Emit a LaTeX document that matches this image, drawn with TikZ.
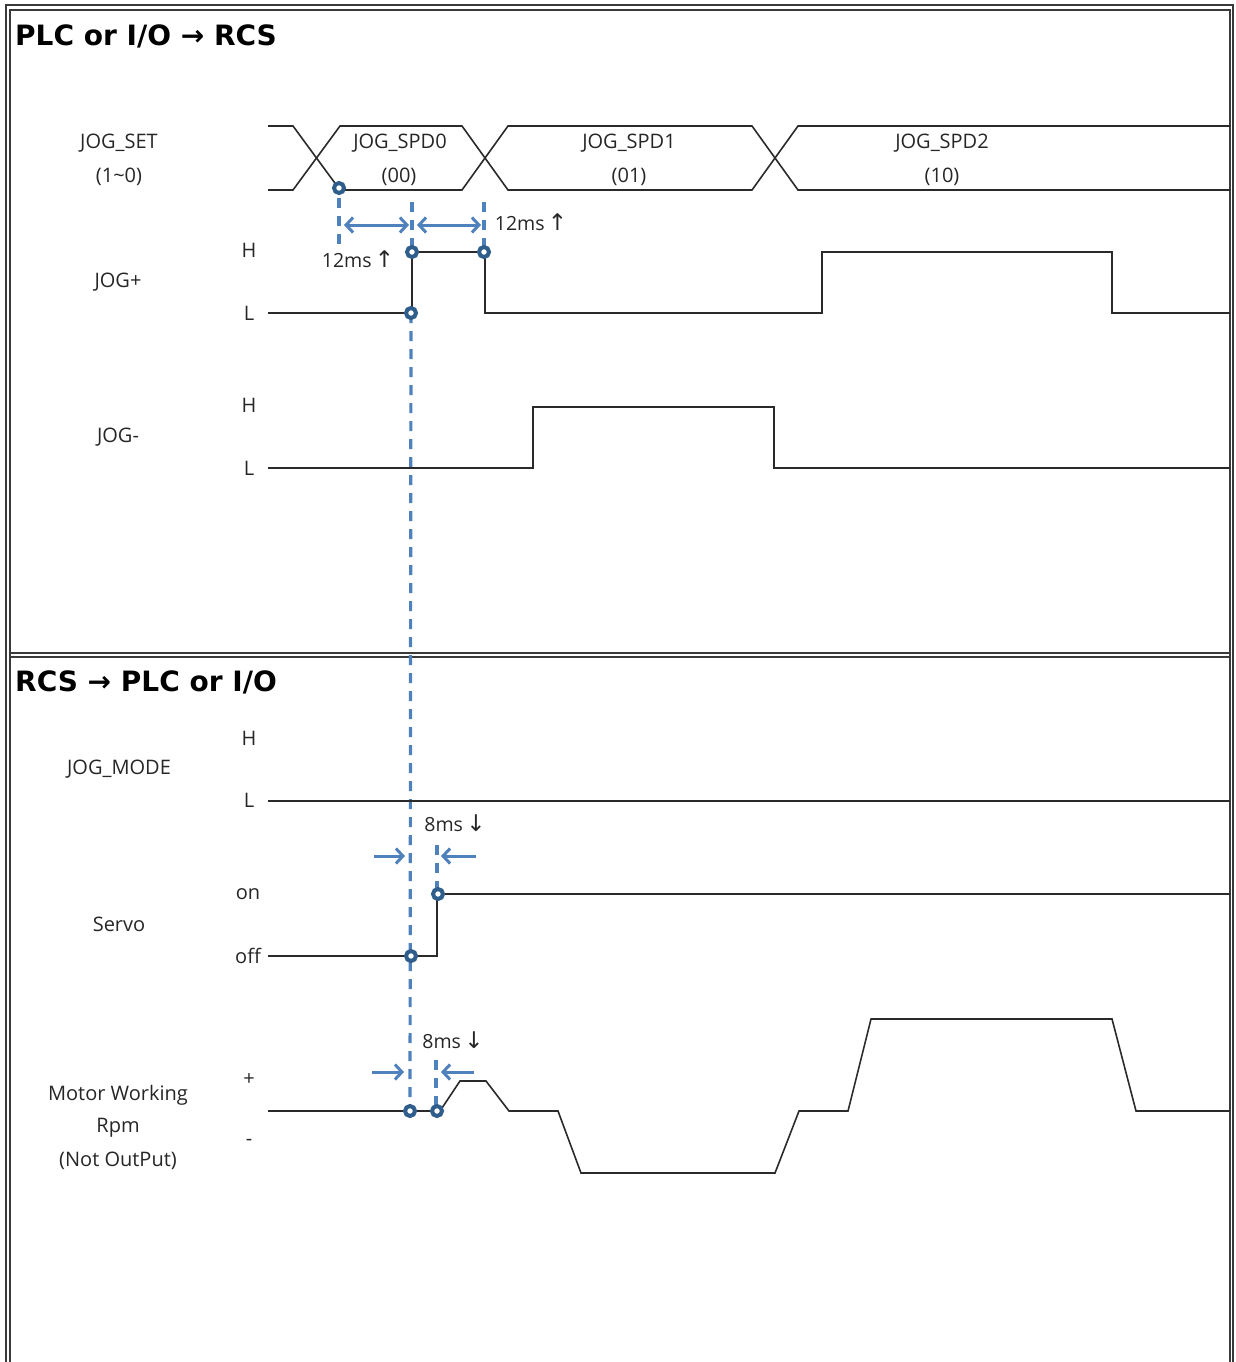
\documentclass[tikz,border=0pt]{standalone}
\usepackage{fontspec}
\setmainfont{Open Sans}
\newfontfamily\arrowfont{DejaVu Sans}
\newfontfamily\titlefont{DejaVu Sans}
\usetikzlibrary{arrows.meta}
\definecolor{mkblue}{HTML}{4F81BD}
\definecolor{dotblue}{HTML}{2F5E8C}
\definecolor{framegray}{HTML}{3A3A3A}
\definecolor{siggray}{HTML}{2A2A2A}
\begin{document}
\begin{tikzpicture}[x=1pt,y=-1pt,
  lbl/.style={font=\fontsize{20}{22}\selectfont, inner sep=0pt, text=black!85},
  ttl/.style={font=\titlefont\fontsize{28}{30}\selectfont\bfseries, anchor=west, inner sep=0pt},
  msl/.style={font=\fontsize{19.5}{22}\selectfont, inner sep=0pt, text=black!85},
  sig/.style={line width=1.6pt, siggray},
  frm/.style={line width=1.8pt, framegray},
  dot/.style={circle, draw=dotblue, fill=white, line width=4pt, minimum size=10pt, inner sep=0pt},
  guide/.style={mkblue, line width=3.2pt, dash pattern=on 10pt off 8pt},
  span/.style={mkblue, line width=3pt, {Straight Barb[length=7pt,width=15pt]}-{Straight Barb[length=7pt,width=15pt]}},
  pin/.style={mkblue, line width=3pt, -{Straight Barb[length=7pt,width=15pt]}}
]
\useasboundingbox (0,0) rectangle (1235,1362);
% frame
\draw[frm] (6,1375) -- (6,5) -- (1233,5) -- (1233,1375);
\draw[frm] (10,1375) -- (10,10) -- (1230,10) -- (1230,1375);
\draw[frm] (10,653) -- (1230,653);
\draw[frm] (10,657) -- (1230,657);

% titles
\node[ttl] (t1) at (15,36) {PLC or I/O → RCS};
\node[ttl] (t2) at (15,682) {RCS → PLC or I/O};

% left labels
\node[lbl] (ls1) at (119,143) {JOG\_SET};
\node[lbl] (ls2) at (119,177) {(1\textasciitilde0)};
\node[lbl] (ljp) at (118,282) {JOG+};
\node[lbl] (ljm) at (118,437) {JOG-};
\node[lbl] (ljmode) at (119,769) {JOG\_MODE};
\node[lbl] (lsv) at (119,924) {Servo};
\node[lbl] (lm1) at (118,1095) {Motor Working};
\node[lbl] (lm2) at (118,1128) {Rpm};
\node[lbl] (lm3) at (118,1161) {(Not OutPut)};

% level labels
\node[lbl] (h1) at (249,250) {H};
\node[lbl] (l1) at (249,313) {L};
\node[lbl] (h2) at (249,405) {H};
\node[lbl] (l2) at (249,468) {L};
\node[lbl] (h3) at (249,738) {H};
\node[lbl] (l3) at (249,800) {L};
\node[lbl] (on) at (248,894) {on};
\node[lbl] (off) at (248,956) {off};
\node[lbl] (pl) at (249,1080) {+};
\node[lbl] (mi) at (249,1142) {-};

% bus labels
\node[lbl] (s0a) at (400,143) {JOG\_SPD0};
\node[lbl] (s0b) at (399,177) {(00)};
\node[lbl] (s1a) at (629,143) {JOG\_SPD1};
\node[lbl] (s1b) at (629,177) {(01)};
\node[lbl] (s2a) at (942,143) {JOG\_SPD2};
\node[lbl] (s2b) at (942,177) {(10)};

% guides (dashed)
\coordinate (g1t) at (339,198);
\coordinate (g1b) at (339,246);
\coordinate (g2t) at (412,202);
\coordinate (g3t) at (484,202);
\coordinate (g4t) at (437,845);
\coordinate (g5t) at (436,1060);
\draw[guide] (g1t) -- (g1b);
\draw[guide] (g2t) -- (412,252);
\draw[guide] (g3t) -- (484,252);
\draw[guide] (411,313) -- (410,1111);
\draw[guide] (g4t) -- (437,894);
\draw[guide] (g5t) -- (436,1111);

% span arrows
\coordinate (a1l) at (344,225);
\coordinate (a1r) at (409,225);
\coordinate (a2l) at (417,225);
\coordinate (a2r) at (481,225);
\draw[span] (a1l) -- (a1r);
\draw[span] (a2l) -- (a2r);
\coordinate (b1s) at (374,856);
\coordinate (b1e) at (405,856);
\coordinate (b2s) at (476,856);
\coordinate (b2e) at (441,856);
\draw[pin] (b1s) -- (b1e);
\draw[pin] (b2s) -- (b2e);
\coordinate (c1s) at (372,1072);
\coordinate (c1e) at (404,1072);
\coordinate (c2s) at (474,1072);
\coordinate (c2e) at (441,1072);
\draw[pin] (c1s) -- (c1e);
\draw[pin] (c2s) -- (c2e);

% ms labels
\node[msl] (m1) at (358,259) {12ms\,{\arrowfont\fontsize{23}{24}\selectfont ↑}};
\node[msl] (m2) at (531,222) {12ms\,{\arrowfont\fontsize{23}{24}\selectfont ↑}};
\node[msl] (m3) at (455,823) {8ms\,{\arrowfont\fontsize{23}{24}\selectfont ↓}};
\node[msl] (m4) at (453,1040) {8ms\,{\arrowfont\fontsize{23}{24}\selectfont ↓}};

% signals
\draw[sig] (268,126) -- (293,126) -- (340,190) -- (462,190) -- (508,126) -- (752,126) -- (798,190) -- (1230,190);
\draw[sig] (268,190) -- (293,190) -- (340,126) -- (462,126) -- (508,190) -- (752,190) -- (798,126) -- (1230,126);
\draw[sig] (268,313) -- (412,313) -- (412,252) -- (485,252) -- (485,313) -- (822,313) -- (822,252) -- (1112,252) -- (1112,313) -- (1230,313);
\draw[sig] (268,468) -- (533,468) -- (533,407) -- (774,407) -- (774,468) -- (1230,468);
\draw[sig] (268,801) -- (1230,801);
\draw[sig] (268,956) -- (437,956) -- (437,894) -- (1230,894);
\draw[sig] (268,1111) -- (440,1111) -- (460,1081) -- (486,1081) -- (509,1111) -- (558,1111) -- (581,1173) -- (775,1173) -- (799,1111) -- (848,1111) -- (871,1019) -- (1112,1019) -- (1136,1111) -- (1230,1111);

% dots
\node[dot] (d1) at (339,188) {};
\node[dot] (d2) at (412,252) {};
\node[dot] (d3) at (484,252) {};
\node[dot] (d4) at (411,313) {};
\node[dot] (d5) at (438,894) {};
\node[dot] (d6) at (411,956) {};
\node[dot] (d7) at (410,1111) {};
\node[dot] (d8) at (437,1111) {};
\end{tikzpicture}
\end{document}
